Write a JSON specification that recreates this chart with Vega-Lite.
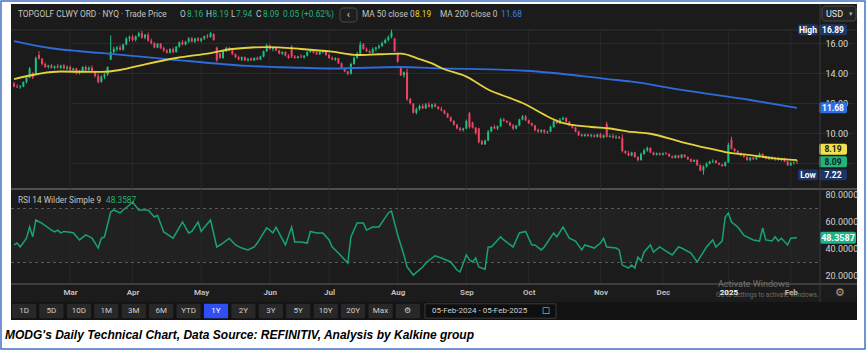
{
"$schema":"https://vega.github.io/schema/vega-lite/v6.json",
"width":846,"height":316,
"autosize":{"type":"none"},
"padding":{"left":11,"top":4,"right":9,"bottom":31},
"background":"#ffffff",
"config":{"view":{"fill":"#1b1b1b","stroke":null},"font":"Roboto"},
"datasets":{
"ohlc":[
{"d":"2024-02-05","o":13.3,"h":13.4,"l":13.05,"c":13.1},
{"d":"2024-02-06","o":13.1,"h":13.25,"l":13.0,"c":13.05},
{"d":"2024-02-07","o":13.05,"h":13.2,"l":12.95,"c":13.1},
{"d":"2024-02-08","o":13.1,"h":13.45,"l":13.05,"c":13.4},
{"d":"2024-02-09","o":13.4,"h":13.75,"l":13.3,"c":13.7},
{"d":"2024-02-12","o":13.7,"h":14.4,"l":13.65,"c":14.3},
{"d":"2024-02-13","o":14.0,"h":14.05,"l":13.6,"c":13.7},
{"d":"2024-02-14","o":13.9,"h":15.1,"l":13.85,"c":15.0},
{"d":"2024-02-15","o":15.2,"h":15.45,"l":14.9,"c":14.95},
{"d":"2024-02-16","o":14.95,"h":15.0,"l":14.5,"c":14.6},
{"d":"2024-02-20","o":14.6,"h":14.7,"l":14.35,"c":14.4},
{"d":"2024-02-21","o":14.4,"h":14.55,"l":14.3,"c":14.5},
{"d":"2024-02-22","o":14.5,"h":14.6,"l":14.3,"c":14.35},
{"d":"2024-02-23","o":14.35,"h":14.5,"l":14.25,"c":14.45},
{"d":"2024-02-26","o":14.45,"h":14.6,"l":14.3,"c":14.35},
{"d":"2024-02-27","o":14.35,"h":14.55,"l":14.25,"c":14.5},
{"d":"2024-02-28","o":14.5,"h":14.6,"l":14.25,"c":14.3},
{"d":"2024-02-29","o":14.3,"h":14.5,"l":14.2,"c":14.4},
{"d":"2024-03-01","o":14.4,"h":14.5,"l":14.15,"c":14.2},
{"d":"2024-03-04","o":14.2,"h":14.35,"l":14.05,"c":14.3},
{"d":"2024-03-05","o":14.3,"h":14.35,"l":13.9,"c":14.0},
{"d":"2024-03-06","o":14.0,"h":14.2,"l":13.9,"c":14.1},
{"d":"2024-03-07","o":14.1,"h":14.45,"l":14.05,"c":14.4},
{"d":"2024-03-08","o":14.4,"h":14.5,"l":14.1,"c":14.2},
{"d":"2024-03-11","o":14.2,"h":14.45,"l":14.15,"c":14.35},
{"d":"2024-03-12","o":14.35,"h":14.5,"l":14.05,"c":14.1},
{"d":"2024-03-13","o":14.1,"h":14.15,"l":13.7,"c":13.8},
{"d":"2024-03-14","o":13.8,"h":13.95,"l":13.3,"c":13.4},
{"d":"2024-03-15","o":13.4,"h":13.85,"l":13.35,"c":13.75},
{"d":"2024-03-18","o":13.75,"h":14.0,"l":13.6,"c":13.9},
{"d":"2024-03-19","o":13.9,"h":14.45,"l":13.8,"c":14.4},
{"d":"2024-03-20","o":14.9,"h":16.5,"l":14.85,"c":15.4},
{"d":"2024-03-21","o":15.4,"h":15.75,"l":15.3,"c":15.6},
{"d":"2024-03-22","o":15.6,"h":15.8,"l":15.45,"c":15.7},
{"d":"2024-03-25","o":15.7,"h":15.85,"l":15.5,"c":15.55},
{"d":"2024-03-26","o":15.55,"h":15.95,"l":15.5,"c":15.9},
{"d":"2024-03-27","o":15.9,"h":16.4,"l":15.85,"c":16.3},
{"d":"2024-03-28","o":16.3,"h":16.5,"l":16.1,"c":16.4},
{"d":"2024-04-01","o":16.4,"h":16.55,"l":16.1,"c":16.2},
{"d":"2024-04-02","o":16.2,"h":16.5,"l":16.1,"c":16.45},
{"d":"2024-04-03","o":16.45,"h":16.75,"l":16.4,"c":16.65},
{"d":"2024-04-04","o":16.65,"h":16.8,"l":16.3,"c":16.35},
{"d":"2024-04-05","o":16.35,"h":16.6,"l":16.25,"c":16.55},
{"d":"2024-04-08","o":16.55,"h":16.7,"l":16.1,"c":16.15},
{"d":"2024-04-09","o":16.15,"h":16.3,"l":15.9,"c":16.0},
{"d":"2024-04-10","o":16.0,"h":16.05,"l":15.65,"c":15.7},
{"d":"2024-04-11","o":15.7,"h":16.0,"l":15.65,"c":15.95},
{"d":"2024-04-12","o":15.95,"h":16.0,"l":15.6,"c":15.65},
{"d":"2024-04-15","o":15.65,"h":15.75,"l":15.4,"c":15.5},
{"d":"2024-04-16","o":15.5,"h":15.6,"l":15.3,"c":15.35},
{"d":"2024-04-17","o":15.35,"h":15.65,"l":15.3,"c":15.6},
{"d":"2024-04-18","o":15.6,"h":15.7,"l":15.3,"c":15.4},
{"d":"2024-04-19","o":15.4,"h":15.8,"l":15.35,"c":15.75},
{"d":"2024-04-22","o":15.75,"h":16.1,"l":15.7,"c":16.05},
{"d":"2024-04-23","o":16.05,"h":16.2,"l":15.85,"c":15.9},
{"d":"2024-04-24","o":15.9,"h":16.15,"l":15.85,"c":16.1},
{"d":"2024-04-25","o":16.1,"h":16.4,"l":16.0,"c":16.3},
{"d":"2024-04-26","o":16.3,"h":16.4,"l":16.05,"c":16.1},
{"d":"2024-04-29","o":16.1,"h":16.35,"l":16.0,"c":16.3},
{"d":"2024-04-30","o":16.3,"h":16.4,"l":16.1,"c":16.15},
{"d":"2024-05-01","o":16.15,"h":16.35,"l":16.05,"c":16.3},
{"d":"2024-05-02","o":16.3,"h":16.5,"l":16.2,"c":16.45},
{"d":"2024-05-03","o":16.45,"h":16.6,"l":16.3,"c":16.4},
{"d":"2024-05-06","o":16.4,"h":16.75,"l":16.35,"c":16.65},
{"d":"2024-05-07","o":16.6,"h":16.65,"l":16.15,"c":16.2},
{"d":"2024-05-08","o":15.7,"h":15.75,"l":14.75,"c":14.85},
{"d":"2024-05-09","o":15.3,"h":15.35,"l":14.95,"c":15.0},
{"d":"2024-05-10","o":15.0,"h":15.5,"l":14.95,"c":15.45},
{"d":"2024-05-13","o":15.45,"h":15.75,"l":15.4,"c":15.65},
{"d":"2024-05-14","o":15.65,"h":15.75,"l":15.45,"c":15.5},
{"d":"2024-05-15","o":15.5,"h":15.6,"l":15.2,"c":15.25},
{"d":"2024-05-16","o":15.25,"h":15.3,"l":15.0,"c":15.05},
{"d":"2024-05-17","o":15.05,"h":15.15,"l":14.85,"c":14.9},
{"d":"2024-05-20","o":14.9,"h":15.1,"l":14.8,"c":15.05},
{"d":"2024-05-21","o":15.05,"h":15.1,"l":14.8,"c":14.85},
{"d":"2024-05-22","o":14.85,"h":15.0,"l":14.75,"c":14.95},
{"d":"2024-05-23","o":14.95,"h":15.05,"l":14.8,"c":14.85},
{"d":"2024-05-24","o":14.85,"h":15.05,"l":14.8,"c":15.0},
{"d":"2024-05-28","o":15.0,"h":15.1,"l":14.85,"c":14.9},
{"d":"2024-05-29","o":14.9,"h":15.15,"l":14.85,"c":15.1},
{"d":"2024-05-30","o":15.1,"h":15.5,"l":15.05,"c":15.45},
{"d":"2024-05-31","o":15.45,"h":15.95,"l":15.4,"c":15.85},
{"d":"2024-06-03","o":15.85,"h":15.9,"l":15.55,"c":15.6},
{"d":"2024-06-04","o":15.6,"h":15.75,"l":15.45,"c":15.7},
{"d":"2024-06-05","o":15.7,"h":15.75,"l":15.45,"c":15.5},
{"d":"2024-06-06","o":15.5,"h":15.55,"l":15.25,"c":15.3},
{"d":"2024-06-07","o":15.3,"h":15.45,"l":15.2,"c":15.4},
{"d":"2024-06-10","o":15.4,"h":15.45,"l":15.1,"c":15.15},
{"d":"2024-06-11","o":15.15,"h":15.25,"l":14.95,"c":15.0},
{"d":"2024-06-12","o":15.75,"h":15.85,"l":15.0,"c":15.1},
{"d":"2024-06-13","o":15.1,"h":15.2,"l":14.95,"c":15.0},
{"d":"2024-06-14","o":15.0,"h":15.15,"l":14.95,"c":15.1},
{"d":"2024-06-17","o":15.1,"h":15.25,"l":15.0,"c":15.05},
{"d":"2024-06-18","o":15.05,"h":15.2,"l":14.95,"c":15.15},
{"d":"2024-06-20","o":15.15,"h":15.45,"l":15.1,"c":15.4},
{"d":"2024-06-21","o":15.4,"h":15.6,"l":15.35,"c":15.55},
{"d":"2024-06-24","o":15.55,"h":15.6,"l":15.3,"c":15.35},
{"d":"2024-06-25","o":15.35,"h":15.45,"l":15.2,"c":15.25},
{"d":"2024-06-26","o":15.25,"h":15.45,"l":15.2,"c":15.4},
{"d":"2024-06-27","o":15.4,"h":15.5,"l":15.3,"c":15.45},
{"d":"2024-06-28","o":15.45,"h":15.5,"l":15.15,"c":15.2},
{"d":"2024-07-01","o":15.2,"h":15.3,"l":14.95,"c":15.0},
{"d":"2024-07-02","o":15.0,"h":15.1,"l":14.85,"c":14.9},
{"d":"2024-07-03","o":14.9,"h":15.05,"l":14.8,"c":15.0},
{"d":"2024-07-05","o":15.0,"h":15.0,"l":14.6,"c":14.65},
{"d":"2024-07-08","o":14.65,"h":14.7,"l":14.25,"c":14.3},
{"d":"2024-07-09","o":14.3,"h":14.35,"l":14.05,"c":14.1},
{"d":"2024-07-10","o":14.1,"h":14.15,"l":13.85,"c":13.95},
{"d":"2024-07-11","o":13.95,"h":14.7,"l":13.9,"c":14.6},
{"d":"2024-07-12","o":14.6,"h":15.1,"l":14.55,"c":15.0},
{"d":"2024-07-15","o":15.0,"h":15.4,"l":14.95,"c":15.3},
{"d":"2024-07-16","o":15.3,"h":16.1,"l":15.25,"c":15.9},
{"d":"2024-07-17","o":15.9,"h":16.0,"l":15.55,"c":15.6},
{"d":"2024-07-18","o":15.6,"h":15.7,"l":15.4,"c":15.45},
{"d":"2024-07-19","o":15.45,"h":15.55,"l":15.3,"c":15.35},
{"d":"2024-07-22","o":15.35,"h":15.7,"l":15.3,"c":15.6},
{"d":"2024-07-23","o":15.6,"h":15.75,"l":15.45,"c":15.7},
{"d":"2024-07-24","o":15.7,"h":15.9,"l":15.6,"c":15.8},
{"d":"2024-07-25","o":15.8,"h":16.1,"l":15.75,"c":16.0},
{"d":"2024-07-26","o":16.0,"h":16.3,"l":15.95,"c":16.2},
{"d":"2024-07-29","o":16.2,"h":16.5,"l":16.1,"c":16.4},
{"d":"2024-07-30","o":16.4,"h":16.89,"l":16.3,"c":16.7},
{"d":"2024-07-31","o":16.3,"h":16.35,"l":15.4,"c":15.45},
{"d":"2024-08-01","o":15.3,"h":15.35,"l":14.7,"c":14.75},
{"d":"2024-08-02","o":14.4,"h":14.45,"l":13.8,"c":13.85},
{"d":"2024-08-05","o":13.85,"h":14.1,"l":13.7,"c":14.05},
{"d":"2024-08-06","o":14.05,"h":14.3,"l":12.15,"c":12.25},
{"d":"2024-08-07","o":12.25,"h":12.35,"l":11.9,"c":12.0},
{"d":"2024-08-08","o":11.95,"h":12.0,"l":11.3,"c":11.35},
{"d":"2024-08-09","o":11.35,"h":11.7,"l":11.25,"c":11.6},
{"d":"2024-08-12","o":11.6,"h":11.9,"l":11.5,"c":11.8},
{"d":"2024-08-13","o":11.8,"h":11.95,"l":11.6,"c":11.65},
{"d":"2024-08-14","o":11.65,"h":12.0,"l":11.6,"c":11.9},
{"d":"2024-08-15","o":11.9,"h":12.05,"l":11.7,"c":11.75},
{"d":"2024-08-16","o":11.75,"h":11.95,"l":11.6,"c":11.9},
{"d":"2024-08-19","o":11.9,"h":12.0,"l":11.7,"c":11.75},
{"d":"2024-08-20","o":11.75,"h":11.8,"l":11.55,"c":11.6},
{"d":"2024-08-21","o":11.6,"h":11.75,"l":11.45,"c":11.5},
{"d":"2024-08-22","o":11.5,"h":11.55,"l":11.25,"c":11.3},
{"d":"2024-08-23","o":11.3,"h":11.35,"l":11.0,"c":11.05},
{"d":"2024-08-26","o":11.05,"h":11.1,"l":10.75,"c":10.8},
{"d":"2024-08-27","o":10.8,"h":10.85,"l":10.5,"c":10.55},
{"d":"2024-08-28","o":10.55,"h":10.6,"l":10.25,"c":10.3},
{"d":"2024-08-29","o":10.3,"h":10.4,"l":10.1,"c":10.2},
{"d":"2024-08-30","o":10.2,"h":10.35,"l":10.1,"c":10.3},
{"d":"2024-09-03","o":10.3,"h":10.9,"l":10.25,"c":10.8},
{"d":"2024-09-04","o":11.3,"h":11.4,"l":10.3,"c":10.4},
{"d":"2024-09-05","o":10.7,"h":10.75,"l":10.3,"c":10.35},
{"d":"2024-09-06","o":10.35,"h":10.4,"l":9.9,"c":10.0},
{"d":"2024-09-09","o":10.3,"h":10.35,"l":9.3,"c":9.4},
{"d":"2024-09-10","o":9.45,"h":9.55,"l":9.2,"c":9.25},
{"d":"2024-09-11","o":9.25,"h":9.55,"l":9.2,"c":9.5},
{"d":"2024-09-12","o":9.5,"h":10.2,"l":9.45,"c":10.1},
{"d":"2024-09-13","o":10.1,"h":10.45,"l":10.05,"c":10.4},
{"d":"2024-09-16","o":10.4,"h":10.55,"l":10.25,"c":10.3},
{"d":"2024-09-17","o":10.3,"h":10.5,"l":10.2,"c":10.45},
{"d":"2024-09-18","o":10.45,"h":11.0,"l":10.4,"c":10.9},
{"d":"2024-09-19","o":10.9,"h":11.0,"l":10.75,"c":10.8},
{"d":"2024-09-20","o":10.8,"h":10.85,"l":10.65,"c":10.7},
{"d":"2024-09-23","o":10.7,"h":10.75,"l":10.45,"c":10.5},
{"d":"2024-09-24","o":10.5,"h":10.6,"l":10.2,"c":10.3},
{"d":"2024-09-25","o":10.3,"h":10.55,"l":10.25,"c":10.5},
{"d":"2024-09-26","o":10.5,"h":10.95,"l":10.45,"c":10.9},
{"d":"2024-09-27","o":10.9,"h":11.2,"l":10.85,"c":11.1},
{"d":"2024-09-30","o":11.1,"h":11.2,"l":10.8,"c":10.85},
{"d":"2024-10-01","o":10.85,"h":10.9,"l":10.6,"c":10.65},
{"d":"2024-10-02","o":10.65,"h":10.7,"l":10.45,"c":10.5},
{"d":"2024-10-03","o":10.5,"h":10.55,"l":10.1,"c":10.2},
{"d":"2024-10-04","o":10.2,"h":10.3,"l":10.0,"c":10.1},
{"d":"2024-10-07","o":10.1,"h":10.25,"l":10.0,"c":10.2},
{"d":"2024-10-08","o":10.2,"h":10.25,"l":9.95,"c":10.05},
{"d":"2024-10-09","o":10.05,"h":10.15,"l":9.95,"c":10.1},
{"d":"2024-10-10","o":10.1,"h":10.5,"l":10.05,"c":10.4},
{"d":"2024-10-11","o":10.4,"h":10.9,"l":10.35,"c":10.8},
{"d":"2024-10-14","o":10.8,"h":10.9,"l":10.6,"c":10.65},
{"d":"2024-10-15","o":10.65,"h":11.0,"l":10.6,"c":10.9},
{"d":"2024-10-16","o":10.9,"h":11.1,"l":10.85,"c":11.0},
{"d":"2024-10-17","o":11.0,"h":11.05,"l":10.7,"c":10.75},
{"d":"2024-10-18","o":10.75,"h":10.8,"l":10.45,"c":10.5},
{"d":"2024-10-21","o":10.5,"h":10.55,"l":10.3,"c":10.35},
{"d":"2024-10-22","o":10.35,"h":10.4,"l":10.05,"c":10.1},
{"d":"2024-10-23","o":10.1,"h":10.15,"l":9.8,"c":9.85},
{"d":"2024-10-24","o":9.9,"h":9.95,"l":9.75,"c":9.8},
{"d":"2024-10-25","o":9.8,"h":9.95,"l":9.75,"c":9.9},
{"d":"2024-10-28","o":9.9,"h":9.95,"l":9.75,"c":9.8},
{"d":"2024-10-29","o":9.8,"h":9.95,"l":9.7,"c":9.85},
{"d":"2024-10-30","o":9.85,"h":9.9,"l":9.7,"c":9.75},
{"d":"2024-10-31","o":9.75,"h":9.95,"l":9.7,"c":9.9},
{"d":"2024-11-01","o":9.9,"h":10.0,"l":9.65,"c":9.7},
{"d":"2024-11-04","o":9.7,"h":9.9,"l":9.65,"c":9.85},
{"d":"2024-11-05","o":10.6,"h":10.75,"l":9.7,"c":9.75},
{"d":"2024-11-06","o":9.75,"h":9.9,"l":9.7,"c":9.8},
{"d":"2024-11-07","o":9.8,"h":9.95,"l":9.65,"c":9.7},
{"d":"2024-11-08","o":9.7,"h":9.85,"l":9.6,"c":9.75},
{"d":"2024-11-11","o":9.75,"h":9.8,"l":9.6,"c":9.65},
{"d":"2024-11-12","o":9.65,"h":9.9,"l":8.7,"c":8.8},
{"d":"2024-11-13","o":8.8,"h":8.85,"l":8.6,"c":8.65},
{"d":"2024-11-14","o":8.65,"h":8.8,"l":8.45,"c":8.5},
{"d":"2024-11-15","o":8.5,"h":8.75,"l":8.45,"c":8.7},
{"d":"2024-11-18","o":8.7,"h":8.75,"l":8.35,"c":8.4},
{"d":"2024-11-19","o":8.4,"h":8.45,"l":8.1,"c":8.2},
{"d":"2024-11-20","o":8.2,"h":8.7,"l":8.15,"c":8.6},
{"d":"2024-11-21","o":8.6,"h":8.95,"l":8.55,"c":8.85},
{"d":"2024-11-22","o":8.85,"h":9.1,"l":8.75,"c":9.0},
{"d":"2024-11-25","o":9.0,"h":9.05,"l":8.65,"c":8.7},
{"d":"2024-11-26","o":8.7,"h":8.75,"l":8.5,"c":8.55},
{"d":"2024-11-27","o":8.55,"h":8.7,"l":8.5,"c":8.65},
{"d":"2024-11-29","o":8.65,"h":8.7,"l":8.5,"c":8.55},
{"d":"2024-12-02","o":8.55,"h":8.7,"l":8.5,"c":8.65},
{"d":"2024-12-03","o":8.65,"h":8.75,"l":8.55,"c":8.6},
{"d":"2024-12-04","o":8.6,"h":8.65,"l":8.4,"c":8.45},
{"d":"2024-12-05","o":8.45,"h":8.5,"l":8.3,"c":8.35},
{"d":"2024-12-06","o":8.35,"h":8.55,"l":8.3,"c":8.5},
{"d":"2024-12-09","o":8.5,"h":8.55,"l":8.3,"c":8.35},
{"d":"2024-12-10","o":8.35,"h":8.6,"l":8.3,"c":8.55},
{"d":"2024-12-11","o":8.55,"h":8.6,"l":8.35,"c":8.4},
{"d":"2024-12-12","o":8.4,"h":8.45,"l":8.2,"c":8.25},
{"d":"2024-12-13","o":8.25,"h":8.3,"l":8.05,"c":8.1},
{"d":"2024-12-16","o":8.1,"h":8.25,"l":8.05,"c":8.2},
{"d":"2024-12-17","o":8.2,"h":8.25,"l":7.8,"c":7.85},
{"d":"2024-12-18","o":7.85,"h":7.9,"l":7.45,"c":7.5},
{"d":"2024-12-19","o":7.5,"h":7.85,"l":7.22,"c":7.75},
{"d":"2024-12-20","o":7.75,"h":8.05,"l":7.7,"c":7.95},
{"d":"2024-12-23","o":7.95,"h":8.15,"l":7.9,"c":8.1},
{"d":"2024-12-24","o":8.1,"h":8.25,"l":8.0,"c":8.15},
{"d":"2024-12-26","o":8.15,"h":8.2,"l":7.95,"c":8.0},
{"d":"2024-12-27","o":8.0,"h":8.05,"l":7.85,"c":7.9},
{"d":"2024-12-30","o":7.9,"h":7.95,"l":7.75,"c":7.8},
{"d":"2024-12-31","o":7.8,"h":8.1,"l":7.75,"c":8.05},
{"d":"2025-01-02","o":8.05,"h":9.35,"l":8.0,"c":9.2},
{"d":"2025-01-03","o":9.55,"h":9.75,"l":8.9,"c":8.95},
{"d":"2025-01-06","o":8.95,"h":9.0,"l":8.75,"c":8.8},
{"d":"2025-01-07","o":8.8,"h":8.85,"l":8.6,"c":8.65},
{"d":"2025-01-08","o":8.65,"h":8.7,"l":8.45,"c":8.5},
{"d":"2025-01-10","o":8.5,"h":8.6,"l":8.35,"c":8.4},
{"d":"2025-01-13","o":8.4,"h":8.45,"l":8.15,"c":8.2},
{"d":"2025-01-14","o":8.2,"h":8.4,"l":8.1,"c":8.35},
{"d":"2025-01-15","o":8.35,"h":8.4,"l":8.2,"c":8.25},
{"d":"2025-01-16","o":8.25,"h":8.45,"l":8.2,"c":8.4},
{"d":"2025-01-17","o":8.4,"h":8.7,"l":8.35,"c":8.6},
{"d":"2025-01-21","o":8.6,"h":8.65,"l":8.35,"c":8.4},
{"d":"2025-01-22","o":8.4,"h":8.5,"l":8.25,"c":8.3},
{"d":"2025-01-23","o":8.3,"h":8.45,"l":8.2,"c":8.4},
{"d":"2025-01-24","o":8.4,"h":8.45,"l":8.2,"c":8.25},
{"d":"2025-01-27","o":8.25,"h":8.4,"l":8.15,"c":8.35},
{"d":"2025-01-28","o":8.35,"h":8.4,"l":8.15,"c":8.2},
{"d":"2025-01-29","o":8.2,"h":8.35,"l":8.1,"c":8.3},
{"d":"2025-01-30","o":8.3,"h":8.35,"l":8.05,"c":8.1},
{"d":"2025-01-31","o":8.1,"h":8.15,"l":7.8,"c":7.85},
{"d":"2025-02-03","o":7.85,"h":8.1,"l":7.8,"c":8.0},
{"d":"2025-02-04","o":8.0,"h":8.1,"l":7.9,"c":8.04},
{"d":"2025-02-05","o":8.16,"h":8.19,"l":7.94,"c":8.09}
],
"ma50":[
{"d":"2024-02-05","v":13.6},{"d":"2024-02-27","v":14.1},{"d":"2024-03-15","v":14.07},{"d":"2024-03-25","v":14.2},
{"d":"2024-04-04","v":14.53},{"d":"2024-04-19","v":15.0},{"d":"2024-05-06","v":15.33},{"d":"2024-05-15","v":15.6},
{"d":"2024-05-31","v":15.73},{"d":"2024-06-17","v":15.6},{"d":"2024-07-02","v":15.42},{"d":"2024-07-15","v":15.2},
{"d":"2024-07-24","v":15.25},{"d":"2024-08-02","v":15.29},{"d":"2024-08-12","v":14.93},{"d":"2024-08-16","v":14.64},
{"d":"2024-08-21","v":14.33},{"d":"2024-09-03","v":13.76},{"d":"2024-09-12","v":12.9},{"d":"2024-09-24","v":12.25},
{"d":"2024-09-27","v":12.0},{"d":"2024-10-10","v":11.0},{"d":"2024-10-15","v":10.73},{"d":"2024-10-29","v":10.4},
{"d":"2024-11-06","v":10.3},{"d":"2024-11-15","v":10.07},{"d":"2024-11-25","v":9.95},{"d":"2024-12-10","v":9.4},
{"d":"2024-12-26","v":8.87},{"d":"2024-12-31","v":8.73},{"d":"2025-01-14","v":8.53},{"d":"2025-01-24","v":8.33},
{"d":"2025-02-05","v":8.19}
],
"ma200":[
{"d":"2024-02-05","v":16.13},{"d":"2024-02-22","v":15.65},{"d":"2024-03-06","v":15.45},{"d":"2024-03-20","v":15.27},
{"d":"2024-04-16","v":14.93},{"d":"2024-05-22","v":14.47},{"d":"2024-06-17","v":14.35},{"d":"2024-07-02","v":14.3},
{"d":"2024-08-02","v":14.4},{"d":"2024-08-16","v":14.33},{"d":"2024-09-30","v":14.15},{"d":"2024-11-06","v":13.58},
{"d":"2024-11-15","v":13.42},{"d":"2024-12-10","v":12.87},{"d":"2025-01-14","v":12.2},{"d":"2025-02-05","v":11.68}
],
"rsi":[
{"d":"2024-02-05","v":43},{"d":"2024-02-06","v":44.4},{"d":"2024-02-07","v":41.5},{"d":"2024-02-09","v":48},
{"d":"2024-02-12","v":56.3},{"d":"2024-02-13","v":49},{"d":"2024-02-14","v":61.5},{"d":"2024-02-16","v":59},
{"d":"2024-02-22","v":54},{"d":"2024-02-23","v":52.6},{"d":"2024-02-26","v":54},{"d":"2024-02-27","v":51.9},
{"d":"2024-02-28","v":53},{"d":"2024-03-04","v":52},{"d":"2024-03-06","v":46.7},{"d":"2024-03-08","v":50.4},
{"d":"2024-03-12","v":48},{"d":"2024-03-14","v":40.7},{"d":"2024-03-15","v":48},{"d":"2024-03-18","v":49},
{"d":"2024-03-20","v":67.4},{"d":"2024-03-21","v":68.9},{"d":"2024-03-25","v":66.7},{"d":"2024-03-26","v":68.9},
{"d":"2024-03-28","v":72.6},{"d":"2024-04-01","v":74.8},{"d":"2024-04-03","v":68.9},{"d":"2024-04-08","v":68.9},
{"d":"2024-04-10","v":63.7},{"d":"2024-04-11","v":65},{"d":"2024-04-15","v":52.6},{"d":"2024-04-18","v":48},
{"d":"2024-04-19","v":51.9},{"d":"2024-04-23","v":60},{"d":"2024-04-25","v":51.9},{"d":"2024-04-26","v":53},
{"d":"2024-04-30","v":60},{"d":"2024-05-01","v":53},{"d":"2024-05-02","v":56},{"d":"2024-05-06","v":61.5},
{"d":"2024-05-08","v":41.5},{"d":"2024-05-10","v":44.4},{"d":"2024-05-14","v":48},{"d":"2024-05-16","v":43},
{"d":"2024-05-20","v":40.7},{"d":"2024-05-22","v":39.3},{"d":"2024-05-24","v":41.5},{"d":"2024-05-28","v":44.4},
{"d":"2024-05-31","v":55.6},{"d":"2024-06-03","v":54},{"d":"2024-06-04","v":51.9},{"d":"2024-06-05","v":56},
{"d":"2024-06-10","v":43},{"d":"2024-06-12","v":56.3},{"d":"2024-06-13","v":45.2},{"d":"2024-06-17","v":45.2},
{"d":"2024-06-20","v":44.4},{"d":"2024-06-21","v":53},{"d":"2024-06-25","v":51.9},{"d":"2024-06-27","v":51.9},
{"d":"2024-07-01","v":46.7},{"d":"2024-07-02","v":41.5},{"d":"2024-07-05","v":37},{"d":"2024-07-10","v":29.6},
{"d":"2024-07-11","v":49},{"d":"2024-07-15","v":59.3},{"d":"2024-07-17","v":59.3},{"d":"2024-07-18","v":54},
{"d":"2024-07-22","v":56.3},{"d":"2024-07-24","v":56.3},{"d":"2024-07-29","v":66.7},{"d":"2024-07-30","v":68.1},
{"d":"2024-08-01","v":50.4},{"d":"2024-08-05","v":35.6},{"d":"2024-08-06","v":26.7},{"d":"2024-08-08","v":20.7},
{"d":"2024-08-13","v":26.7},{"d":"2024-08-14","v":29.6},{"d":"2024-08-16","v":33.3},{"d":"2024-08-19","v":35},
{"d":"2024-08-21","v":33.3},{"d":"2024-08-26","v":30.4},{"d":"2024-08-28","v":24.4},{"d":"2024-08-29","v":23},
{"d":"2024-09-03","v":35.6},{"d":"2024-09-04","v":32},{"d":"2024-09-05","v":30.4},{"d":"2024-09-06","v":33.3},
{"d":"2024-09-09","v":26.7},{"d":"2024-09-11","v":25},{"d":"2024-09-12","v":41.5},{"d":"2024-09-13","v":41.5},
{"d":"2024-09-18","v":49},{"d":"2024-09-19","v":46.7},{"d":"2024-09-24","v":41.5},{"d":"2024-09-26","v":51.9},
{"d":"2024-09-30","v":53},{"d":"2024-10-02","v":43},{"d":"2024-10-03","v":43},{"d":"2024-10-07","v":39.3},
{"d":"2024-10-08","v":41.5},{"d":"2024-10-11","v":51.9},{"d":"2024-10-14","v":49},{"d":"2024-10-16","v":56.3},
{"d":"2024-10-18","v":48},{"d":"2024-10-22","v":45.9},{"d":"2024-10-24","v":39.3},{"d":"2024-10-25","v":43},
{"d":"2024-10-30","v":40.7},{"d":"2024-11-01","v":44.4},{"d":"2024-11-04","v":48},{"d":"2024-11-05","v":41.5},
{"d":"2024-11-08","v":40.7},{"d":"2024-11-11","v":39.3},{"d":"2024-11-12","v":28.1},{"d":"2024-11-14","v":25.9},
{"d":"2024-11-15","v":28.1},{"d":"2024-11-18","v":25.9},{"d":"2024-11-19","v":34},{"d":"2024-11-20","v":31.1},
{"d":"2024-11-21","v":37.8},{"d":"2024-11-25","v":43},{"d":"2024-11-26","v":37.8},{"d":"2024-11-29","v":41.5},
{"d":"2024-12-03","v":38.5},{"d":"2024-12-05","v":35.6},{"d":"2024-12-09","v":41.5},{"d":"2024-12-10","v":40.7},
{"d":"2024-12-13","v":37},{"d":"2024-12-17","v":30.4},{"d":"2024-12-20","v":41.5},{"d":"2024-12-24","v":46.7},
{"d":"2024-12-26","v":41.5},{"d":"2024-12-30","v":45.9},{"d":"2024-12-31","v":63.7},{"d":"2025-01-02","v":66.7},
{"d":"2025-01-03","v":60},{"d":"2025-01-07","v":56.3},{"d":"2025-01-10","v":50},{"d":"2025-01-15","v":46.7},
{"d":"2025-01-17","v":45.9},{"d":"2025-01-21","v":55.6},{"d":"2025-01-22","v":46.7},{"d":"2025-01-24","v":45.9},
{"d":"2025-01-27","v":49},{"d":"2025-01-28","v":45.9},{"d":"2025-01-29","v":48},{"d":"2025-01-31","v":43},
{"d":"2025-02-03","v":48},{"d":"2025-02-05","v":48.3587}
],
"months":[{"d":"2024-03-01"},{"d":"2024-04-01"},{"d":"2024-05-01"},{"d":"2024-06-03"},{"d":"2024-07-01"},{"d":"2024-08-01"},{"d":"2024-09-03"},{"d":"2024-10-01"},{"d":"2024-11-01"},{"d":"2024-12-02"},{"d":"2025-01-02"},{"d":"2025-02-03"}],
"tags":[{"k":"high","v":16.89},{"k":"ma200","v":11.68},{"k":"last","v":8.09},{"k":"low","v":7.22}],
"tag50":[{"k":"ma50","v":8.19}],
"side":[{"k":"high","v":16.89,"s":"High"},{"k":"low","v":7.22,"s":"Low"}],
"rsitag":[{"v":48.3587}],
"levels":[{"lvl":70},{"lvl":30}],
"buttons":[{"b":"1D"},{"b":"5D"},{"b":"10D"},{"b":"1M"},{"b":"3M"},{"b":"6M"},{"b":"YTD"},{"b":"1Y"},{"b":"2Y"},{"b":"3Y"},{"b":"5Y"},{"b":"10Y"},{"b":"20Y"},{"b":"Max"},{"b":"⚙"}]
},
"layer":[
{
"layer":[
{
"layer":[
{"data":{"name":"months"},"mark":{"type":"rule","color":"#282828","strokeWidth":1},
 "encoding":{
  "x":{"field":"d","type":"ordinal","scale":{"type":"point","range":[3,786],"padding":0},
   "axis":{"values":["2024-03-01","2024-04-01","2024-05-01","2024-06-03","2024-07-01","2024-08-01","2024-09-03","2024-10-01","2024-11-01","2024-12-02","2025-01-02","2025-02-03"],
    "orient":"bottom","offset":-36,"domain":false,"ticks":false,"grid":false,"labelAngle":0,"labelPadding":4,"labelFontSize":8,"labelFontWeight":"bold","labelOverlap":false,
    "labelColor":{"condition":{"test":"slice(datum.value,5,7)=='01'","value":"#ffffff"},"value":"#bdbdbd"},
    "labelExpr":"utcFormat(toDate(datum.value), slice(datum.value,5,7)=='01' ? '%Y' : '%b')","title":null}},
  "y":{"datum":16.867,"type":"quantitative","scale":{"domain":[6.267,16.867],"range":[185,26],"zero":false,"nice":false},
   "axis":{"orient":"right","offset":-37,"values":[8,10,12,14,16],"labelExpr":"datum.value == 8 ? '' : format(datum.value, '.2f')","labelAlign":"left","labelPadding":5,"labelColor":"#d8d8d8","labelFontSize":9,"domain":false,"ticks":false,"grid":true,"gridColor":"#2a2a2a","title":null}},
  "y2":{"datum":6.267}}},
{"data":{"values":[{}]},"mark":{"type":"rule","color":"#303030"},"encoding":{"y":{"datum":16.867,"type":"quantitative"}}},
{"data":{"name":"ohlc"},"mark":{"type":"rule","strokeWidth":1},
 "encoding":{"x":{"field":"d","type":"ordinal"},"y":{"field":"l","type":"quantitative"},"y2":{"field":"h"},
  "color":{"condition":{"test":"datum.c >= datum.o","value":"#1fbf83"},"value":"#ef4565"}}},
{"data":{"name":"ohlc"},"mark":{"type":"bar","width":2},
 "encoding":{"x":{"field":"d","type":"ordinal"},"y":{"field":"o","type":"quantitative"},"y2":{"field":"c"},
  "color":{"condition":{"test":"datum.c >= datum.o","value":"#1fbf83"},"value":"#ef4565"}}},
{"data":{"name":"ma200"},"mark":{"type":"line","color":"#2e6bdc","strokeWidth":1.8,"interpolate":"monotone"},
 "encoding":{"x":{"field":"d","type":"ordinal"},"y":{"field":"v","type":"quantitative"}}},
{"data":{"name":"ma50"},"mark":{"type":"line","color":"#e4d23a","strokeWidth":1.8,"interpolate":"monotone"},
 "encoding":{"x":{"field":"d","type":"ordinal"},"y":{"field":"v","type":"quantitative"}}},
{"data":{"values":[{}]},"mark":{"type":"rule","color":"#4f4f4f","strokeWidth":2},"encoding":{"y":{"datum":6.267,"type":"quantitative"}}},
{"data":{"name":"tags"},"mark":{"type":"tick","orient":"horizontal","size":28,"thickness":11,"cornerRadius":2,"opacity":1},
 "encoding":{"x":{"value":822},"y":{"field":"v","type":"quantitative"},
  "color":{"field":"k","type":"nominal","scale":{"domain":["high","ma200","last","low"],"range":["#1c3868","#2d6fe3","#20b47c","#1c3566"]},"legend":null}}},
{"data":{"name":"tags"},"mark":{"type":"text","fontSize":8.5,"fontWeight":"bold","align":"center","baseline":"middle"},
 "encoding":{"x":{"value":822},"y":{"field":"v","type":"quantitative"},"text":{"field":"v","format":".2f"},
  "color":{"condition":{"test":"datum.k=='last'","value":"#0d1f17"},"value":"#ffffff"}}},
{"data":{"name":"tag50"},"mark":{"type":"tick","orient":"horizontal","size":28,"thickness":11,"cornerRadius":2,"opacity":1,"color":"#f2e14c","yOffset":-11},
 "encoding":{"x":{"value":822},"y":{"field":"v","type":"quantitative"}}},
{"data":{"name":"tag50"},"mark":{"type":"text","fontSize":8.5,"fontWeight":"bold","align":"center","baseline":"middle","color":"#1a1a1a","yOffset":-11},
 "encoding":{"x":{"value":822},"y":{"field":"v","type":"quantitative"},"text":{"field":"v","format":".2f"}}},
{"data":{"name":"side"},"mark":{"type":"tick","orient":"horizontal","size":20,"thickness":11,"cornerRadius":2,"opacity":1,"color":"#1c3566"},
 "encoding":{"x":{"value":797},"y":{"field":"v","type":"quantitative"}}},
{"data":{"name":"side"},"mark":{"type":"text","fontSize":8.5,"fontWeight":"bold","align":"center","baseline":"middle","color":"#ffffff"},
 "encoding":{"x":{"value":797},"y":{"field":"v","type":"quantitative"},"text":{"field":"s"}}}
]
},
{
"layer":[
{"data":{"values":[{}]},"mark":{"type":"rect","color":"#212121","xOffset":-3,"x2Offset":23},
 "encoding":{"x":{"datum":"2024-02-05","type":"ordinal"},"x2":{"datum":"2025-02-05"},
  "y":{"datum":70,"type":"quantitative","scale":{"domain":[14.07,84.44],"range":[280,185],"zero":false,"nice":false},
   "axis":{"orient":"right","offset":-37,"values":[20,40,60,80],"format":".4f","labelAlign":"left","labelPadding":5,"labelColor":"#d0d0d0","labelFontSize":9,"domain":false,"ticks":false,"grid":false,"title":null}},
  "y2":{"datum":30}}},
{"data":{"name":"months"},"mark":{"type":"rule","color":"#282828"},
 "encoding":{"x":{"field":"d","type":"ordinal"},"y":{"datum":84.44,"type":"quantitative"},"y2":{"datum":14.07}}},
{"data":{"name":"levels"},"mark":{"type":"rule","color":"#5c5c5c","strokeDash":[3,3],"xOffset":-3,"x2Offset":23},
 "encoding":{"x":{"datum":"2024-02-05","type":"ordinal"},"x2":{"datum":"2025-02-05"},"y":{"field":"lvl","type":"quantitative"}}},
{"data":{"name":"rsi"},"mark":{"type":"line","color":"#17a377","strokeWidth":1.5},
 "encoding":{"x":{"field":"d","type":"ordinal"},"y":{"field":"v","type":"quantitative"}}},
{"data":{"values":[{}]},"mark":{"type":"rule","color":"#4a4a4a","strokeWidth":1.5},"encoding":{"y":{"datum":14.07,"type":"quantitative"}}},
{"data":{"name":"rsitag"},"mark":{"type":"tick","orient":"horizontal","size":36,"thickness":12,"cornerRadius":2,"opacity":1,"color":"#1db386"},
 "encoding":{"x":{"value":827},"y":{"field":"v","type":"quantitative"}}},
{"data":{"name":"rsitag"},"mark":{"type":"text","fontSize":9,"fontWeight":"bold","align":"center","baseline":"middle","color":"#ffffff"},
 "encoding":{"x":{"value":827},"y":{"field":"v","type":"quantitative"},"text":{"field":"v","format":".4f"}}}
]
}
],
"resolve":{"scale":{"y":"independent","color":"independent"}}
},
{"data":{"values":[{}]},"mark":{"type":"rule","color":"#3a3a3a"},"encoding":{"x":{"value":809}}},
{
"data":{"name":"buttons"},
"layer":[
{"data":{"values":[{}]},"mark":{"type":"rect","color":"#131313"},
 "encoding":{"y":{"datum":0,"type":"quantitative","scale":{"domain":[0,1],"range":[316,298],"zero":false,"nice":false},"axis":null},"y2":{"datum":1}}},
{"mark":{"type":"bar","cornerRadius":1},
 "encoding":{"x":{"field":"b","type":"nominal","scale":{"type":"band","domain":["1D","5D","10D","1M","3M","6M","YTD","1Y","2Y","3Y","5Y","10Y","20Y","Max","⚙"],"range":[1,409],"paddingInner":0.12,"paddingOuter":0},"axis":null},
  "y":{"datum":0.1,"type":"quantitative"},"y2":{"datum":0.9},
  "color":{"condition":{"test":"datum.b=='1Y'","value":"#2f4ff5"},"value":"#282828"}}},
{"mark":{"type":"text","fontSize":8,"align":"center","baseline":"middle"},
 "encoding":{"x":{"field":"b","type":"nominal","bandPosition":0.5},"y":{"datum":0.5,"type":"quantitative"},"text":{"field":"b"},
  "color":{"condition":{"test":"datum.b=='1Y'","value":"#ffffff"},"value":"#cfcfcf"}}},
{"data":{"values":[{}]},"mark":{"type":"rect","fill":"#0f0f0f","stroke":"#3a3a3a","strokeWidth":1},
 "encoding":{"x":{"value":414},"x2":{"value":545},"y":{"datum":0.1,"type":"quantitative"},"y2":{"datum":0.9}}},
{"data":{"values":[{"t":"05-Feb-2024  -  05-Feb-2025"}]},"mark":{"type":"text","fontSize":8,"align":"left","baseline":"middle","color":"#cfcfcf"},
 "encoding":{"x":{"value":421},"y":{"datum":0.5,"type":"quantitative"},"text":{"field":"t"}}},
{"data":{"values":[{"t":"☐"}]},"mark":{"type":"text","fontSize":9,"align":"center","baseline":"middle","color":"#cfcfcf"},
 "encoding":{"x":{"value":535},"y":{"datum":0.5,"type":"quantitative"},"text":{"field":"t"}}}
]
},
{"data":{"values":[{"t":"TOPGOLF CLWY ORD · NYQ · Trade Price"}]},"mark":{"type":"text","align":"left","baseline":"middle","fontSize":8.3,"color":"#c4c4c4"},"encoding":{"text":{"field":"t"},"x":{"value":7},"y":{"value":11}}},
{"data":{"values":[{"t":"O"}]},"mark":{"type":"text","align":"left","baseline":"middle","fontSize":8.3,"color":"#c4c4c4"},"encoding":{"text":{"field":"t"},"x":{"value":169},"y":{"value":11}}},
{"data":{"values":[{"t":"8.16"}]},"mark":{"type":"text","align":"left","baseline":"middle","fontSize":8.3,"color":"#26b07c"},"encoding":{"text":{"field":"t"},"x":{"value":176},"y":{"value":11}}},
{"data":{"values":[{"t":"H"}]},"mark":{"type":"text","align":"left","baseline":"middle","fontSize":8.3,"color":"#c4c4c4"},"encoding":{"text":{"field":"t"},"x":{"value":195},"y":{"value":11}}},
{"data":{"values":[{"t":"8.19"}]},"mark":{"type":"text","align":"left","baseline":"middle","fontSize":8.3,"color":"#26b07c"},"encoding":{"text":{"field":"t"},"x":{"value":201.5},"y":{"value":11}}},
{"data":{"values":[{"t":"L"}]},"mark":{"type":"text","align":"left","baseline":"middle","fontSize":8.3,"color":"#c4c4c4"},"encoding":{"text":{"field":"t"},"x":{"value":220},"y":{"value":11}}},
{"data":{"values":[{"t":"7.94"}]},"mark":{"type":"text","align":"left","baseline":"middle","fontSize":8.3,"color":"#26b07c"},"encoding":{"text":{"field":"t"},"x":{"value":225},"y":{"value":11}}},
{"data":{"values":[{"t":"C"}]},"mark":{"type":"text","align":"left","baseline":"middle","fontSize":8.3,"color":"#c4c4c4"},"encoding":{"text":{"field":"t"},"x":{"value":245},"y":{"value":11}}},
{"data":{"values":[{"t":"8.09"}]},"mark":{"type":"text","align":"left","baseline":"middle","fontSize":8.3,"color":"#26b07c"},"encoding":{"text":{"field":"t"},"x":{"value":252},"y":{"value":11}}},
{"data":{"values":[{"t":"0.05 (+0.62%)"}]},"mark":{"type":"text","align":"left","baseline":"middle","fontSize":8.3,"color":"#26b07c"},"encoding":{"text":{"field":"t"},"x":{"value":272},"y":{"value":11}}},
{"data":{"values":[{}]},"mark":{"type":"rect","fill":"#1e1e1e","stroke":"#4a4a4a","cornerRadius":3},"encoding":{"x":{"value":329},"x2":{"value":346},"y":{"value":4},"y2":{"value":18}}},
{"data":{"values":[{"t":"‹"}]},"mark":{"type":"text","align":"center","baseline":"middle","fontSize":11,"color":"#d0d0d0"},"encoding":{"text":{"field":"t"},"x":{"value":337.5},"y":{"value":10.5}}},
{"data":{"values":[{"t":"MA 50 close 0"}]},"mark":{"type":"text","align":"left","baseline":"middle","fontSize":8.3,"color":"#c4c4c4"},"encoding":{"text":{"field":"t"},"x":{"value":351},"y":{"value":11}}},
{"data":{"values":[{"t":"8.19"}]},"mark":{"type":"text","align":"left","baseline":"middle","fontSize":8.3,"color":"#e2cf35"},"encoding":{"text":{"field":"t"},"x":{"value":404},"y":{"value":11}}},
{"data":{"values":[{"t":"MA 200 close 0"}]},"mark":{"type":"text","align":"left","baseline":"middle","fontSize":8.3,"color":"#c4c4c4"},"encoding":{"text":{"field":"t"},"x":{"value":429},"y":{"value":11}}},
{"data":{"values":[{"t":"11.68"}]},"mark":{"type":"text","align":"left","baseline":"middle","fontSize":8.3,"color":"#3f7fe6"},"encoding":{"text":{"field":"t"},"x":{"value":490},"y":{"value":11}}},
{"data":{"values":[{}]},"mark":{"type":"rect","fill":"#232323","stroke":"#4a4a4a","cornerRadius":3},"encoding":{"x":{"value":811},"x2":{"value":845},"y":{"value":2},"y2":{"value":17}}},
{"data":{"values":[{"t":"USD"}]},"mark":{"type":"text","align":"left","baseline":"middle","fontSize":9,"color":"#e6e6e6"},"encoding":{"text":{"field":"t"},"x":{"value":815},"y":{"value":9.5}}},
{"data":{"values":[{"t":"▾"}]},"mark":{"type":"text","align":"center","baseline":"middle","fontSize":7,"color":"#aaaaaa"},"encoding":{"text":{"field":"t"},"x":{"value":840},"y":{"value":9.5}}},
{"data":{"values":[{"t":"RSI 14 Wilder Simple 9"}]},"mark":{"type":"text","align":"left","baseline":"middle","fontSize":8.3,"color":"#c4c4c4"},"encoding":{"text":{"field":"t"},"x":{"value":7},"y":{"value":197}}},
{"data":{"values":[{"t":"48.3587"}]},"mark":{"type":"text","align":"left","baseline":"middle","fontSize":8.3,"color":"#26b07c"},"encoding":{"text":{"field":"t"},"x":{"value":95},"y":{"value":197}}},
{"data":{"values":[{"t":"⚙"}]},"mark":{"type":"text","align":"center","baseline":"middle","fontSize":11,"color":"#a0a0a0"},"encoding":{"text":{"field":"t"},"x":{"value":829},"y":{"value":289}}},
{"data":{"values":[{"t":"Activate Windows"}]},"mark":{"type":"text","align":"left","baseline":"middle","fontSize":9,"color":"#8a8a8a","opacity":0.75},"encoding":{"text":{"field":"t"},"x":{"value":707},"y":{"value":280}}},
{"data":{"values":[{"t":"Go to Settings to activate Windows."}]},"mark":{"type":"text","align":"left","baseline":"middle","fontSize":6.5,"color":"#8a8a8a","opacity":0.75},"encoding":{"text":{"field":"t"},"x":{"value":705},"y":{"value":291}}},
{"data":{"values":[{"t":"MODG's Daily Technical Chart, Data Source: REFINITIV, Analysis by Kalkine group"}]},"mark":{"type":"text","align":"left","baseline":"middle","font":"Liberation Sans","fontSize":12,"fontWeight":"bold","fontStyle":"italic","color":"#000000"},"encoding":{"text":{"field":"t"},"x":{"value":-6},"y":{"value":331}}},
{"data":{"values":[{}]},"mark":{"type":"rect","fill":null,"stroke":"#4472c4","strokeWidth":1.5},"encoding":{"x":{"value":-10},"x2":{"value":854},"y":{"value":-3},"y2":{"value":345}}}
],
"resolve":{"scale":{"x":"independent","y":"independent","color":"independent"}}
}
